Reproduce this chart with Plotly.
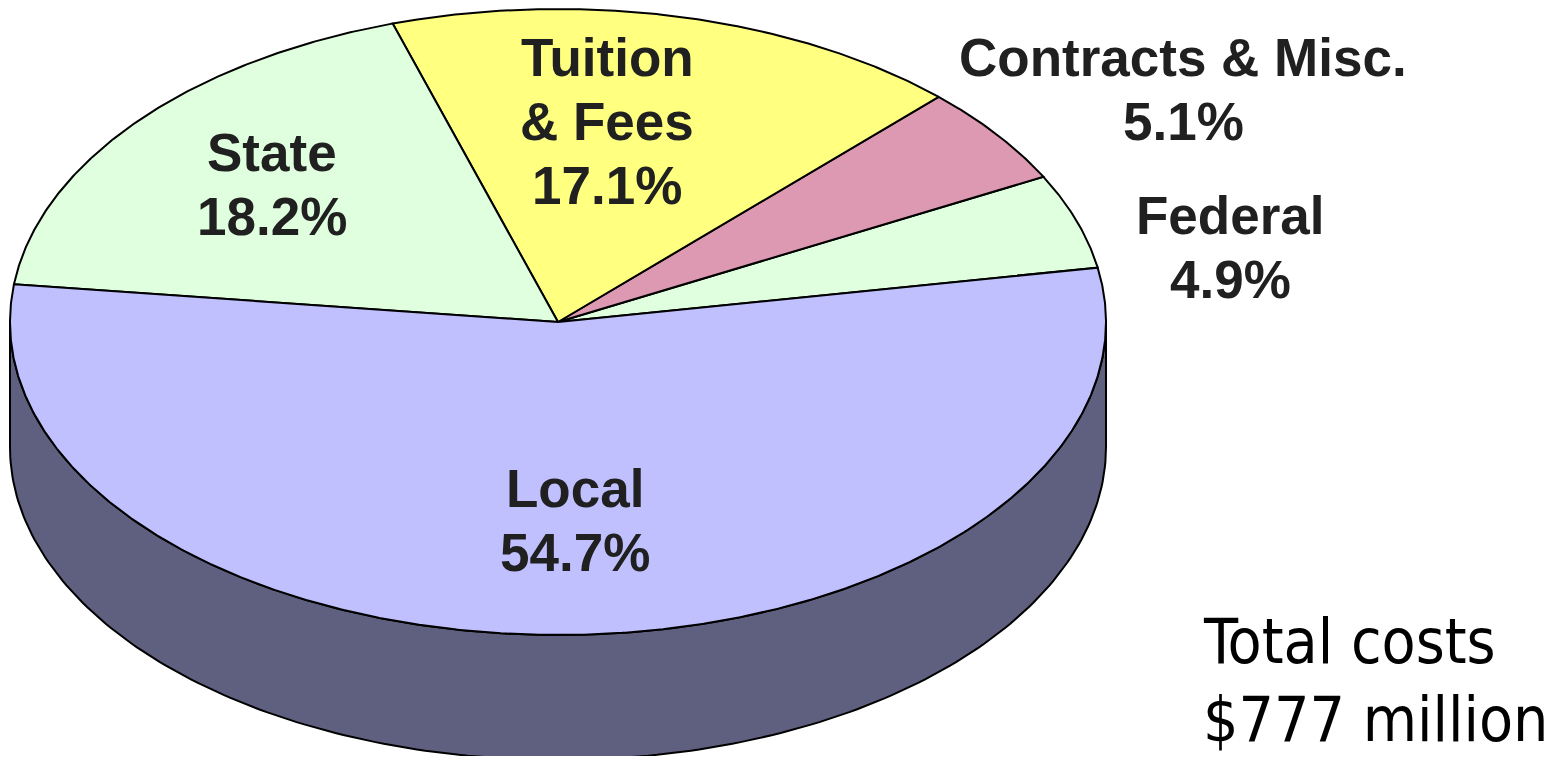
import numpy as np
import plotly.graph_objects as go

# ---- data ----
labels = ["Federal", "Contracts & Misc.", "Tuition & Fees", "State", "Local"]
values = [4.9, 5.1, 17.1, 18.2, 54.7]
label_lines = [["Federal", "4.9%"], ["Contracts & Misc.", "5.1%"],
               ["Tuition", "& Fees", "17.1%"], ["State", "18.2%"], ["Local", "54.7%"]]
colors = ["#DFFFDF", "#DD99B1", "#FFFF80", "#DFFFDF", "#C0C0FF"]
side_color = "#5F5F7F"
total_lines = ["Total costs", "$777 million"]

# ---- geometry (layout) ----
CX, CY = 558, 322        # centre of top ellipse
A, B = 548, 313          # semi-axes
DEPTH = 125              # thickness of the pie
START_DEG = 10           # angle where first slice starts (counter-clockwise)

def pt(theta_deg, dy=0.0):
    t = np.radians(theta_deg)
    return CX + A * np.cos(t), CY - B * np.sin(t) + dy

fig = go.Figure()

total = sum(values)
bounds = [START_DEG]
for v in values:
    bounds.append(bounds[-1] + v / total * 360.0)

# side walls (visible front half: 180..360)
for i, v in enumerate(values):
    a0, a1 = bounds[i], bounds[i + 1]
    segs = []
    for off in (0, 360, -360):
        l2, h2 = max(a0 + off, 180.0), min(a1 + off, 360.0)
        if h2 > l2:
            segs.append((l2, h2))
    for (l2, h2) in segs:
        th = np.linspace(l2, h2, 200)
        xt, yt = pt(th)
        xb, yb = pt(th[::-1], DEPTH)
        xs = np.concatenate([xt, xb, xt[:1]])
        ys = np.concatenate([yt, yb, yt[:1]])
        fig.add_trace(go.Scatter(x=xs, y=ys, mode="lines", fill="toself",
                                 fillcolor=side_color,
                                 line=dict(color="black", width=2),
                                 hoverinfo="skip", showlegend=False))

# top slices
for i, v in enumerate(values):
    a0, a1 = bounds[i], bounds[i + 1]
    th = np.linspace(a0, a1, max(10, int((a1 - a0) * 3)))
    xa, ya = pt(th)
    xs = np.concatenate([[CX], xa, [CX]])
    ys = np.concatenate([[CY], ya, [CY]])
    fig.add_trace(go.Scatter(x=xs, y=ys, mode="lines", fill="toself",
                             fillcolor=colors[i],
                             line=dict(color="black", width=2),
                             name=labels[i], hoverinfo="name", showlegend=False))

# label positions (layout): centre x, first line y, line step
label_pos = [(1230, 215), (1183, 57), (607, 57), (272, 152), (575, 488)]
STEP = 64
for (x, y0), lines in zip(label_pos, label_lines):
    for k, t in enumerate(lines):
        fig.add_annotation(x=x, y=y0 + k * STEP, text="<b>" + t + "</b>", showarrow=False,
                           font=dict(family="Liberation Sans, Arial, sans-serif", size=53,
                                     color="#202020"),
                           xanchor="center", yanchor="middle", align="center")

for k, t in enumerate(total_lines):
    fig.add_annotation(x=1201, y=641 + k * 78, text=t, showarrow=False,
                       font=dict(family="DejaVu Sans Condensed, DejaVu Sans, sans-serif",
                                 size=62, color="black"),
                       xanchor="left", yanchor="middle", align="left")

fig.update_layout(
    width=1540, height=748,
    margin=dict(l=0, r=0, t=0, b=0),
    paper_bgcolor="white", plot_bgcolor="white",
    xaxis=dict(range=[8, 1548], visible=False, fixedrange=True),
    yaxis=dict(range=[756, 8], visible=False, fixedrange=True),
)

fig.write_html("out.html")
